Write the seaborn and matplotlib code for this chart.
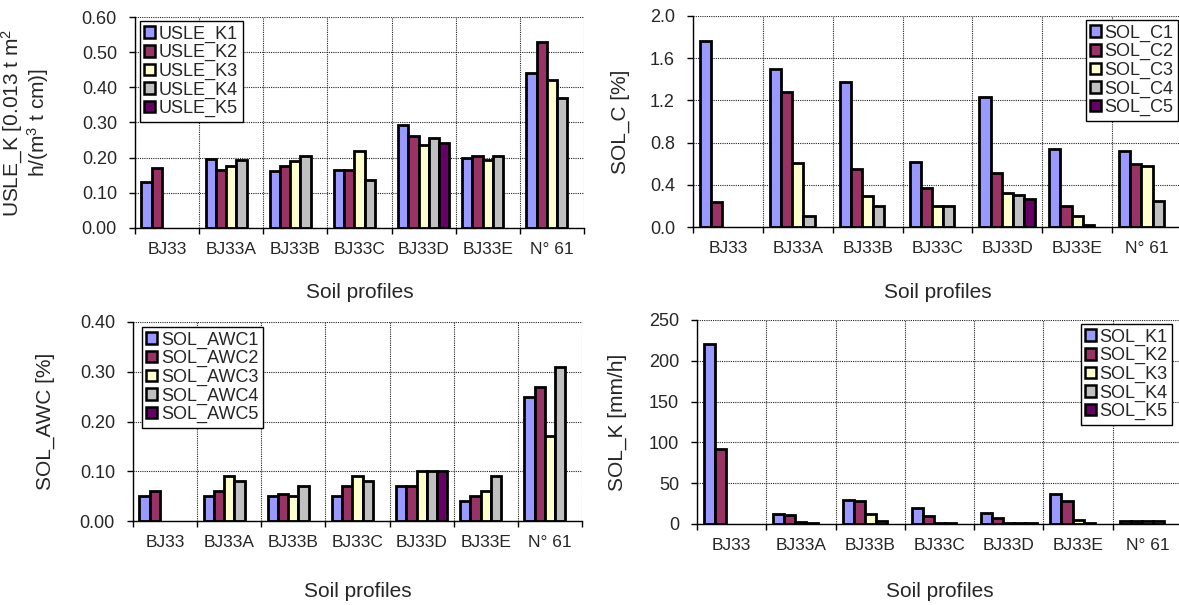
import numpy as np
import pandas as pd
import matplotlib
matplotlib.use("Agg")
import matplotlib.pyplot as plt
import seaborn as sns
from matplotlib.ticker import FixedLocator, FormatStrFormatter, NullFormatter

# ---------------- data ----------------
profiles = ["BJ33", "BJ33A", "BJ33B", "BJ33C", "BJ33D", "BJ33E", "N° 61"]
nan = np.nan

usle_names = ["USLE_K1", "USLE_K2", "USLE_K3", "USLE_K4", "USLE_K5"]
usle_k1 = [0.13, 0.197, 0.162, 0.164, 0.292, 0.198, 0.44]
usle_k2 = [0.17, 0.166, 0.176, 0.164, 0.263, 0.204, 0.53]
usle_k3 = [nan, 0.176, 0.19, 0.22, 0.236, 0.192, 0.42]
usle_k4 = [nan, 0.194, 0.206, 0.136, 0.256, 0.205, 0.37]
usle_k5 = [nan, nan, nan, nan, 0.241, nan, nan]

solc_names = ["SOL_C1", "SOL_C2", "SOL_C3", "SOL_C4", "SOL_C5"]
sol_c1 = [1.76, 1.50, 1.37, 0.62, 1.23, 0.74, 0.72]
sol_c2 = [0.24, 1.28, 0.55, 0.37, 0.51, 0.20, 0.60]
sol_c3 = [nan, 0.61, 0.29, 0.20, 0.32, 0.10, 0.58]
sol_c4 = [nan, 0.10, 0.20, 0.20, 0.30, 0.02, 0.25]
sol_c5 = [nan, nan, nan, nan, 0.27, nan, nan]

awc_names = ["SOL_AWC1", "SOL_AWC2", "SOL_AWC3", "SOL_AWC4", "SOL_AWC5"]
sol_awc1 = [0.05, 0.05, 0.05, 0.05, 0.07, 0.04, 0.25]
sol_awc2 = [0.06, 0.06, 0.055, 0.07, 0.07, 0.05, 0.27]
sol_awc3 = [nan, 0.09, 0.05, 0.09, 0.10, 0.06, 0.17]
sol_awc4 = [nan, 0.08, 0.07, 0.08, 0.10, 0.09, 0.31]
sol_awc5 = [nan, nan, nan, nan, 0.10, nan, nan]

solk_names = ["SOL_K1", "SOL_K2", "SOL_K3", "SOL_K4", "SOL_K5"]
sol_k1 = [220, 12.5, 29, 20, 13, 36.5, 4]
sol_k2 = [92, 10.5, 28, 10, 7.5, 28, 4]
sol_k3 = [nan, 2, 12.5, 1.2, 1, 5.5, 4]
sol_k4 = [nan, 1.5, 3.5, 1, 1, 1.6, 4]
sol_k5 = [nan, nan, nan, nan, 1, nan, nan]

layer_colors = ["#9999FF", "#993366", "#FFFFCC", "#C0C0C0", "#660066"]

# ---------------- style ----------------
sns.set_style("white")
plt.rcParams["font.family"] = ["Liberation Sans", "DejaVu Sans"]
plt.rcParams["mathtext.fontset"] = "custom"
plt.rcParams["mathtext.rm"] = "Liberation Sans"
plt.rcParams["mathtext.it"] = "Liberation Sans"

W, H = 1179, 605
fig = plt.figure(figsize=(W / 100, H / 100), dpi=100)


def px_axes(x0, y0, x1, y1):
    return fig.add_axes([x0 / W, 1 - y1 / H, (x1 - x0) / W, (y1 - y0) / H])


def draw(ax, series, names, ymax, ystep, fmt, ylabel, loc, anchor, ylab_x, xlab_y):
    rows = []
    for name, vals in zip(names, series):
        for p, v in zip(profiles, vals):
            if not np.isnan(v):
                rows.append((p, name, v))
    df = pd.DataFrame(rows, columns=["profile", "layer", "value"])
    sns.barplot(data=df, x="profile", y="value", hue="layer", order=profiles,
                hue_order=names, palette=layer_colors, saturation=1,
                edgecolor="black", linewidth=2.0, width=0.8, errorbar=None,
                ax=ax, legend=True)
    ax.set_xlim(-0.5, len(profiles) - 0.5)
    ax.set_ylim(0, ymax)
    ax.set_axisbelow(True)

    # x: boundaries as major ticks (grid), labels on minor ticks at centres
    ax.xaxis.set_major_locator(FixedLocator(np.arange(-0.5, len(profiles), 1.0)))
    ax.xaxis.set_major_formatter(NullFormatter())
    ax.set_xticks(np.arange(len(profiles)), labels=profiles, minor=True)
    ax.tick_params(axis="x", which="major", direction="out", length=4,
                   width=1, color="black", bottom=True)
    ax.tick_params(axis="x", which="minor", length=0, pad=10, labelsize=12.5)

    yt = np.arange(0, ymax + ystep / 2, ystep)
    ax.set_yticks(yt)
    ax.yaxis.set_major_formatter(FormatStrFormatter(fmt))
    ax.tick_params(axis="y", direction="out", length=4, width=1,
                   color="black", left=True, pad=9, labelsize=13)

    ax.grid(True, which="major", axis="both", color="#222222",
            linestyle=(0, (1, 1)), linewidth=0.8)
    for s in ["top", "right"]:
        ax.spines[s].set_visible(False)
    for s in ["left", "bottom"]:
        ax.spines[s].set_color("black")
        ax.spines[s].set_linewidth(1.0)

    ax.set_ylabel(ylabel, fontsize=15, multialignment="center", linespacing=1.0)
    ax.yaxis.set_label_coords(ylab_x, 0.5)
    ax.set_xlabel("Soil profiles", fontsize=15)
    ax.xaxis.set_label_coords(0.5, xlab_y)

    handles, labels = ax.get_legend_handles_labels()
    leg = ax.legend(handles, labels, loc=loc, bbox_to_anchor=anchor,
                    borderaxespad=0, frameon=True, fancybox=False,
                    edgecolor="black", framealpha=1, fontsize=13,
                    handlelength=0.6, handleheight=0.6, handletextpad=0.2,
                    labelspacing=0.08, borderpad=0.25)
    leg.get_frame().set_linewidth(1.0)
    for h in leg.get_patches():
        h.set_edgecolor("black")
        h.set_linewidth(1.8)


ax1 = px_axes(135, 17, 584, 228)
draw(ax1, [usle_k1, usle_k2, usle_k3, usle_k4, usle_k5], usle_names,
     0.60, 0.10, "%.2f",
     "USLE_K [0.013 t m$^{2}$\nh/(m$^{3}$ t cm)]",
     "upper left", (0.011, 0.981), -0.187, -0.26)

ax2 = px_axes(693, 16, 1182, 227)
draw(ax2, [sol_c1, sol_c2, sol_c3, sol_c4, sol_c5], solc_names,
     2.0, 0.4, "%.1f", "SOL_C [%]",
     "upper right", (0.992, 0.981), -0.129, -0.265)

ax3 = px_axes(133, 322, 582, 521)
draw(ax3, [sol_awc1, sol_awc2, sol_awc3, sol_awc4, sol_awc5], awc_names,
     0.40, 0.10, "%.2f", "SOL_AWC [%]",
     "upper left", (0.020, 0.975), -0.174, -0.305)

ax4 = px_axes(697, 320, 1182, 524)
draw(ax4, [sol_k1, sol_k2, sol_k3, sol_k4, sol_k5], solk_names,
     250, 50, "%d", "SOL_K [mm/h]",
     "upper right", (0.980, 0.980), -0.144, -0.284)

fig.savefig("out.png", dpi=100)
